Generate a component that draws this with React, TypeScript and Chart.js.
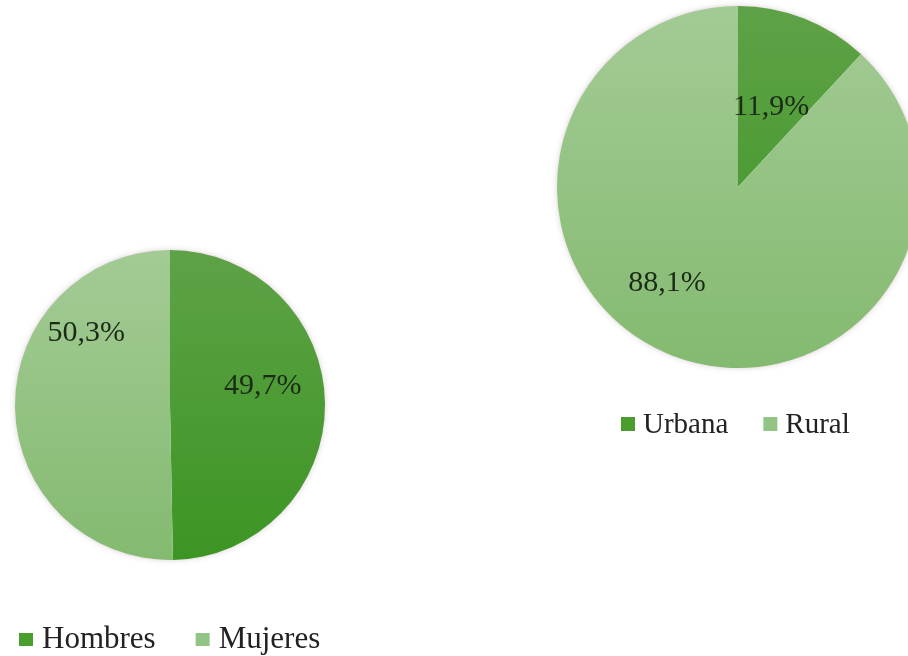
import React, { useEffect, useRef } from "react";
import { Chart, registerables } from "chart.js";

Chart.register(...registerables);

// ---- data ----
const sexLabels = ["Hombres", "Mujeres"];
const sexValues = [49.7, 50.3];
const areaLabels = ["Urbana", "Rural"];
const areaValues = [11.9, 88.1];

// ---- styles ----
const DARK_GRAD = ["#5ea247", "#3c9523"];
const LIGHT_GRAD = ["#a3cb95", "#84ba70"];
const LEGEND_COLORS = ["#4a9e2e", "#92c585"];
const FONT = "'Liberation Serif', 'Times New Roman', serif";

type Placement = { shift: number; frac: number };

function gradFill(ctx: any, area: any, cols: string[]) {
  const g = ctx.createLinearGradient(0, area.top, 0, area.bottom);
  g.addColorStop(0, cols[0]);
  g.addColorStop(1, cols[1]);
  return g;
}

const shadowPlugin = {
  id: "pieShadow",
  beforeDatasetsDraw(chart: any) {
    const arc = chart.getDatasetMeta(0).data[0];
    if (!arc) return;
    const { x, y, outerRadius } = arc.getProps(["x", "y", "outerRadius"], true);
    const ctx = chart.ctx;
    ctx.save();
    ctx.shadowColor = "rgba(110,60,80,0.35)";
    ctx.shadowBlur = 6;
    ctx.fillStyle = "#ffffff";
    ctx.beginPath();
    ctx.arc(x, y, outerRadius - 1, 0, Math.PI * 2);
    ctx.fill();
    ctx.restore();
  },
};

function makeLabelPlugin(placements: Placement[], fontSize: number) {
  return {
    id: "sliceLabels",
    afterDatasetsDraw(chart: any) {
      const ctx = chart.ctx;
      const meta = chart.getDatasetMeta(0);
      const vals = chart.data.datasets[0].data as number[];
      ctx.save();
      ctx.font = `${fontSize}px ${FONT}`;
      ctx.fillStyle = "#1c2b18";
      ctx.textAlign = "center";
      ctx.textBaseline = "middle";
      meta.data.forEach((arc: any, i: number) => {
        const p = arc.getProps(["x", "y", "startAngle", "endAngle", "outerRadius"], true);
        const pl = placements[i];
        const a = (p.startAngle + p.endAngle) / 2 + (pl.shift * Math.PI) / 180;
        const r = p.outerRadius * pl.frac;
        const txt = vals[i].toFixed(1).replace(".", ",") + "%";
        ctx.fillText(txt, p.x + Math.cos(a) * r, p.y + Math.sin(a) * r);
      });
      ctx.restore();
    },
  };
}

function makeLegendPlugin(cfg: {
  x: number;
  dy: number;
  fontSize: number;
  boxW: number;
  boxH: number;
  textGap: number;
  itemGap: number;
}) {
  return {
    id: "customLegend",
    afterDraw(chart: any) {
      const ctx = chart.ctx;
      const labels = chart.data.labels as string[];
      const baseline = chart.chartArea.bottom + cfg.dy;
      ctx.save();
      ctx.font = `${cfg.fontSize}px ${FONT}`;
      ctx.textBaseline = "alphabetic";
      ctx.textAlign = "left";
      let x = cfg.x;
      labels.forEach((lab, i) => {
        ctx.fillStyle = LEGEND_COLORS[i];
        ctx.fillRect(x, baseline - cfg.boxH - 2, cfg.boxW, cfg.boxH);
        x += cfg.boxW + cfg.textGap;
        ctx.fillStyle = "#222222";
        ctx.fillText(lab, x, baseline);
        x += ctx.measureText(lab).width + cfg.itemGap;
      });
      ctx.restore();
    },
  };
}

function PieChart(props: {
  labels: string[];
  values: number[];
  width: number;
  height: number;
  left: number;
  top: number;
  padding: { left: number; right: number; top: number; bottom: number };
  placements: Placement[];
  labelSize: number;
  legend: any;
}) {
  const ref = useRef<HTMLCanvasElement>(null);
  useEffect(() => {
    if (!ref.current) return;
    const chart = new Chart(ref.current, {
      type: "pie",
      data: {
        labels: props.labels,
        datasets: [
          {
            data: props.values,
            backgroundColor: (c: any) => {
              const area = c.chart.chartArea;
              if (!area) return c.dataIndex === 0 ? LEGEND_COLORS[0] : LEGEND_COLORS[1];
              return gradFill(c.chart.ctx, area, c.dataIndex === 0 ? DARK_GRAD : LIGHT_GRAD);
            },
            borderWidth: 0,
          },
        ],
      },
      options: {
        responsive: false,
        animation: false,
        layout: { padding: props.padding },
        plugins: {
          legend: { display: false },
          tooltip: { enabled: false },
        },
      },
      plugins: [shadowPlugin, makeLabelPlugin(props.placements, props.labelSize), makeLegendPlugin(props.legend)],
    } as any);
    return () => chart.destroy();
  }, []);
  return (
    <canvas
      ref={ref}
      width={props.width}
      height={props.height}
      style={{
        position: "absolute",
        left: props.left,
        top: props.top,
        width: props.width,
        height: props.height,
      }}
    />
  );
}

export default function App() {
  useEffect(() => {
    document.body.style.margin = "0";
    document.body.style.overflow = "hidden";
  }, []);
  return (
    <div
      style={{
        position: "fixed",
        left: 0,
        top: 0,
        width: 908,
        height: 656,
        overflow: "hidden",
        background: "#ffffff",
      }}
    >
      <PieChart
        labels={sexLabels}
        values={sexValues}
        width={340}
        height={656}
        left={0}
        top={0}
        padding={{ left: 15, right: 15, top: 250, bottom: 96 }}
        placements={[
          { shift: -11, frac: 0.61 },
          { shift: 41, frac: 0.71 },
        ]}
        labelSize={30}
        legend={{ x: 19, dy: 88, fontSize: 31, boxW: 14, boxH: 13, textGap: 9, itemGap: 40 }}
      />
      <PieChart
        labels={areaLabels}
        values={areaValues}
        width={400}
        height={656}
        left={540}
        top={0}
        padding={{ left: 17, right: 21, top: 6, bottom: 288 }}
        placements={[
          { shift: 1, frac: 0.48 },
          { shift: 15, frac: 0.66 },
        ]}
        labelSize={30}
        legend={{ x: 81, dy: 65, fontSize: 29, boxW: 14, boxH: 14, textGap: 8, itemGap: 35 }}
      />
    </div>
  );
}
